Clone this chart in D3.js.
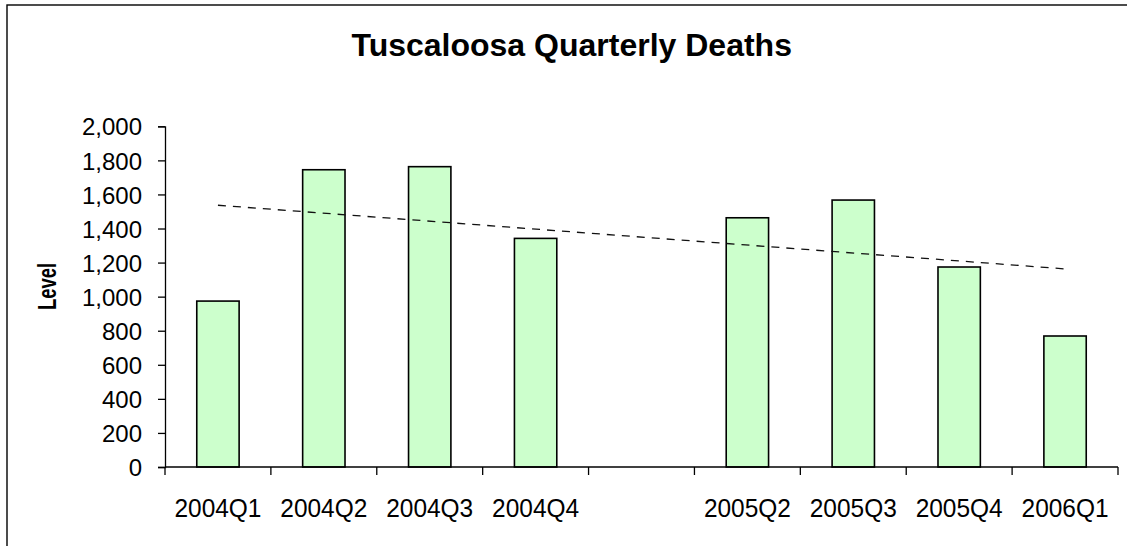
<!DOCTYPE html>
<html>
<head>
<meta charset="utf-8">
<script src="https://cdn.jsdelivr.net/npm/d3@7"></script>
<style>
  html, body { margin: 0; padding: 0; background: #fff; }
  svg { display: block; }
</style>
</head>
<body>
<svg id="chart" width="1127" height="546"></svg>
<script>
// ---- data ----
const title = "Tuscaloosa Quarterly Deaths";
const yAxisTitle = "Level";
const categories = ["2004Q1", "2004Q2", "2004Q3", "2004Q4", "2005Q1", "2005Q2", "2005Q3", "2005Q4", "2006Q1"];
const tickLabels = ["2004Q1", "2004Q2", "2004Q3", "2004Q4", "", "2005Q2", "2005Q3", "2005Q4", "2006Q1"];
const deaths = [974, 1745, 1763, 1342, null, 1463, 1567, 1174, 769];
const yTicks = [0, 200, 400, 600, 800, 1000, 1200, 1400, 1600, 1800, 2000];

// ---- layout ----
const W = 1127, H = 546;
const plot = { left: 165, right: 1118, top: 126.3, bottom: 467 };
const font = "'Liberation Sans', Arial, Helvetica, sans-serif";

const svg = d3.select("#chart");
svg.append("rect").attr("x", 0).attr("y", 0).attr("width", W).attr("height", H).attr("fill", "#fff");
// outer chart border (extends past the visible area on right/bottom)
svg.append("rect").attr("x", 7).attr("y", 5).attr("width", W + 20).attr("height", H + 20)
  .attr("fill", "none").attr("stroke", "#000").attr("stroke-width", 1.4);

const x = d3.scaleBand().domain(categories).range([plot.left, plot.right]).paddingInner(0.6).paddingOuter(0.3);
const xCell = d3.scaleBand().domain(categories).range([plot.left, plot.right]).padding(0);
const y = d3.scaleLinear().domain([0, 2000]).range([plot.bottom, plot.top]);

// bars
svg.append("g").selectAll("rect")
  .data(categories.map((c, i) => ({ c, v: deaths[i] })).filter(d => d.v != null))
  .join("rect")
  .attr("x", d => x(d.c))
  .attr("y", d => y(d.v))
  .attr("width", x.bandwidth())
  .attr("height", d => y(0) - y(d.v))
  .attr("fill", "#CCFFCC")
  .attr("stroke", "#000")
  .attr("stroke-width", 1.6);

// linear trend line (least squares over category index)
const pts = deaths.map((v, i) => ({ i: i + 1, v })).filter(d => d.v != null);
const mx = d3.mean(pts, d => d.i), my = d3.mean(pts, d => d.v);
const slope = d3.sum(pts, d => (d.i - mx) * (d.v - my)) / d3.sum(pts, d => (d.i - mx) ** 2);
const icpt = my - slope * mx;
const trend = [1, categories.length].map(i => ({ c: categories[i - 1], v: icpt + slope * i }));
svg.append("path")
  .datum(trend)
  .attr("d", d3.line().x(d => xCell(d.c) + xCell.bandwidth() / 2).y(d => y(d.v)))
  .attr("fill", "none")
  .attr("stroke", "#111")
  .attr("stroke-width", 1.3)
  .attr("stroke-dasharray", "8,7");

// y axis
const yAxis = d3.axisLeft(y).tickValues(yTicks).tickSize(7).tickPadding(16).tickFormat(d3.format(","));
const gy = svg.append("g").attr("transform", `translate(${plot.left},0)`).call(yAxis);
gy.select(".domain").attr("stroke", "#000").attr("stroke-width", 1.3);
gy.selectAll(".tick line").attr("stroke", "#000").attr("stroke-width", 1.3);
gy.selectAll(".tick text").attr("font-family", font).attr("font-size", 24).attr("fill", "#000").attr("dy", "0.36em");

// x axis: line + ticks at cell boundaries
const gx = svg.append("g");
gx.append("line").attr("x1", plot.left).attr("x2", plot.right).attr("y1", y(0)).attr("y2", y(0))
  .attr("stroke", "#000").attr("stroke-width", 1.3);
const bounds = categories.map(c => xCell(c)).concat([xCell(categories[categories.length - 1]) + xCell.bandwidth()]);
gx.selectAll("line.tk").data(bounds).join("line").attr("class", "tk")
  .attr("x1", d => d).attr("x2", d => d).attr("y1", y(0)).attr("y2", y(0) + 8)
  .attr("stroke", "#000").attr("stroke-width", 1.3);
gx.selectAll("text").data(categories).join("text")
  .attr("x", (c) => xCell(c) + xCell.bandwidth() / 2)
  .attr("y", 517)
  .attr("text-anchor", "middle")
  .attr("font-family", font).attr("font-size", 26).attr("fill", "#000")
  .text((c, i) => tickLabels[i])
  .each(function () {
    const len = this.getComputedTextLength();
    if (len > 0) d3.select(this).attr("textLength", len * 0.94).attr("lengthAdjust", "spacingAndGlyphs");
  });

// title
svg.append("text").attr("x", 571.7).attr("y", 56).attr("text-anchor", "middle")
  .attr("font-family", font).attr("font-size", 32).attr("font-weight", "bold").attr("fill", "#000")
  .text(title);

// y axis title
svg.append("text")
  .attr("transform", "translate(56,286.5) rotate(-90)")
  .attr("text-anchor", "middle")
  .attr("font-family", font).attr("font-size", 25).attr("font-weight", "bold").attr("fill", "#000")
  .attr("textLength", 47).attr("lengthAdjust", "spacingAndGlyphs")
  .text(yAxisTitle);
</script>
</body>
</html>
